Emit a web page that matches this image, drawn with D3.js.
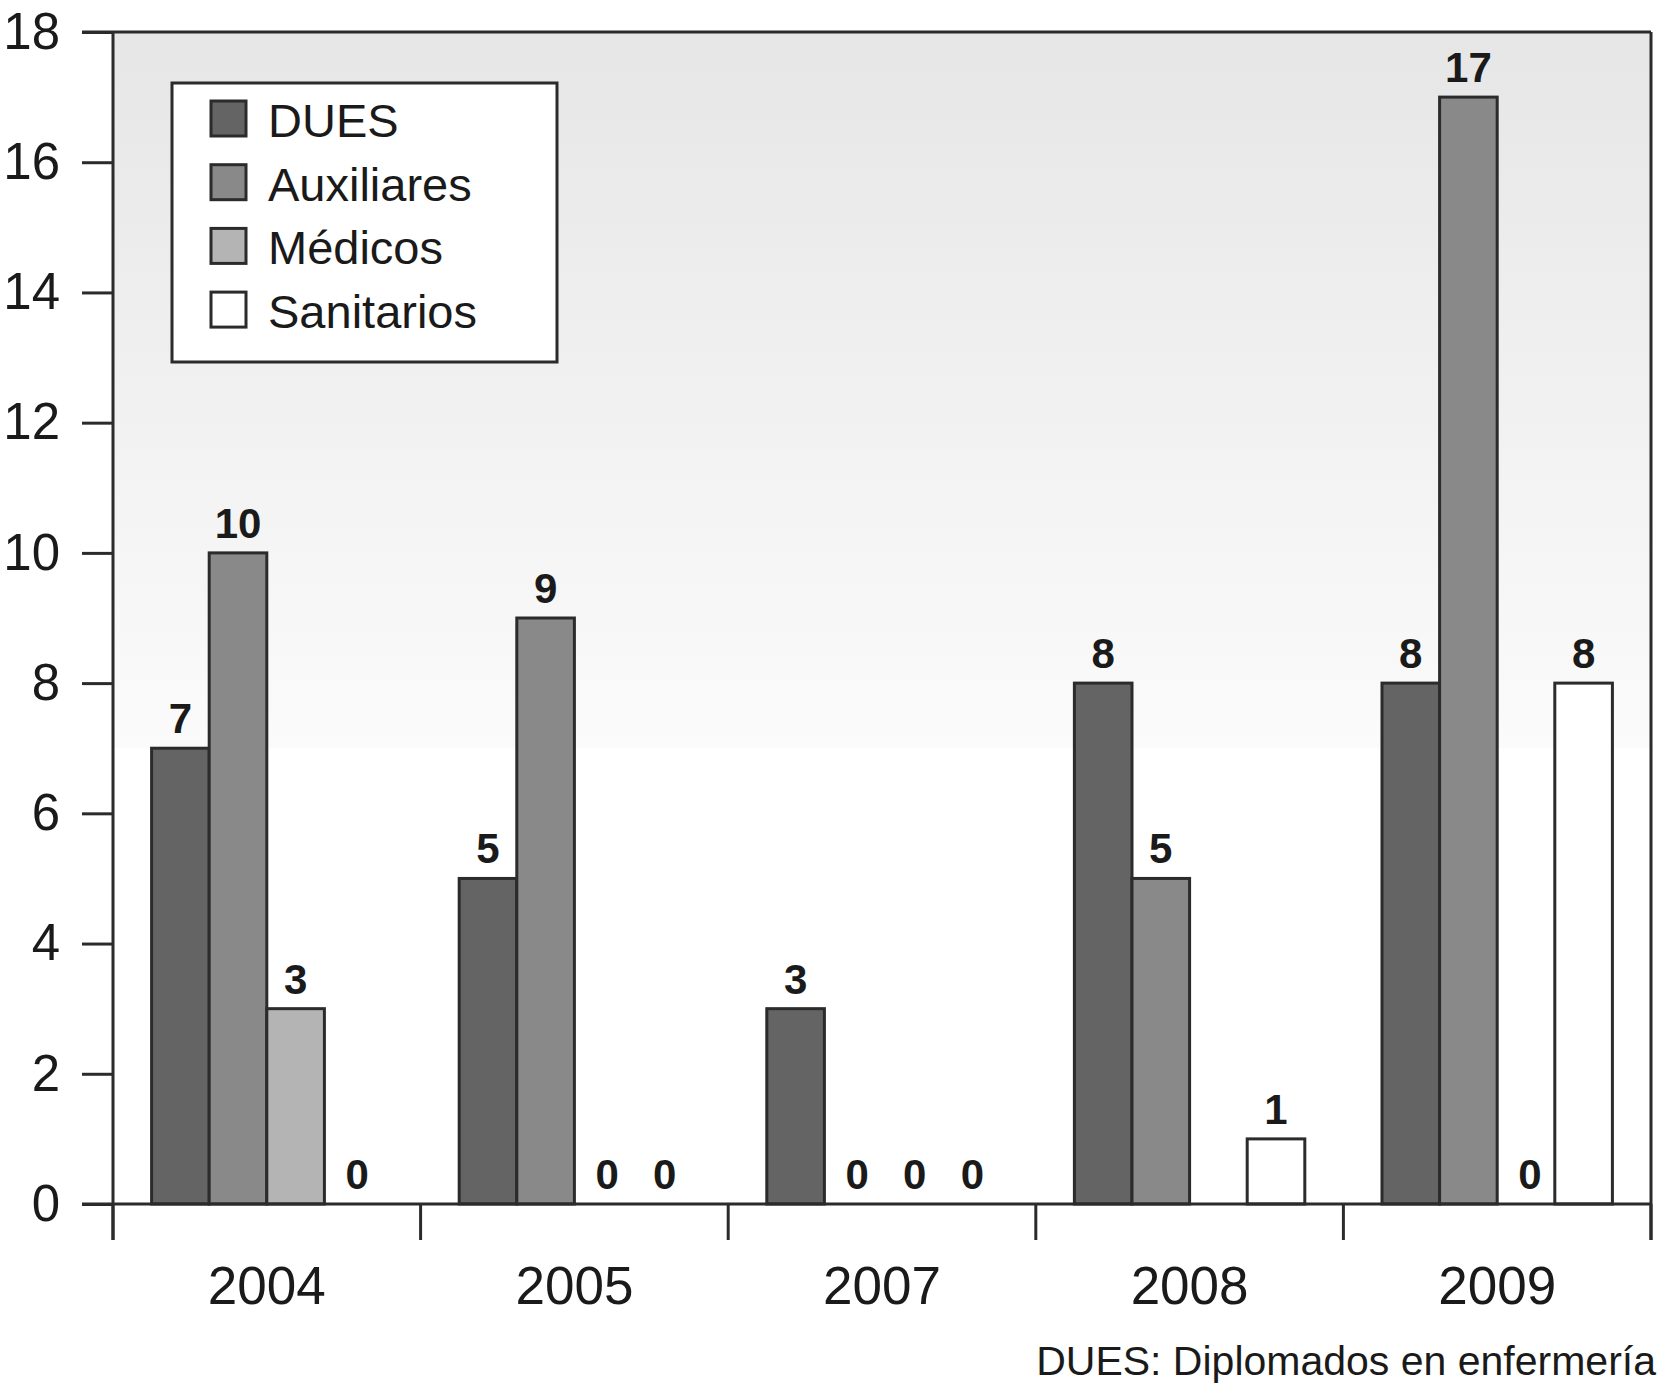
<!DOCTYPE html>
<html>
<head>
<meta charset="utf-8">
<script src="https://cdn.jsdelivr.net/npm/d3@7/dist/d3.min.js"></script>
<style>
  html, body { margin: 0; padding: 0; background: #fff; }
  svg { display: block; }
  text { font-family: "Liberation Sans", Arial, Helvetica, sans-serif; fill: #1a1a1a; }
</style>
</head>
<body>
<svg id="chart" width="1660" height="1389"></svg>
<script>
const years = ["2004", "2005", "2007", "2008", "2009"];
const seriesNames = ["DUES", "Auxiliares", "Médicos", "Sanitarios"];
const dues = [7, 5, 3, 8, 8];
const auxiliares = [10, 9, 0, 5, 17];
const medicos = [3, 0, 0, null, 0];
const sanitarios = [0, 0, 0, 1, 8];
const yTicks = [0, 2, 4, 6, 8, 10, 12, 14, 16, 18];
const footnote = "DUES: Diplomados en enfermería";

const seriesValues = [dues, auxiliares, medicos, sanitarios];
const colors = ["#646464", "#898989", "#b4b4b4", "#ffffff"];
const stroke = "#2b2b2b";

const svg = d3.select("#chart");
const plotLeft = 113, plotRight = 1651, plotTop = 32, plotBottom = 1204;

const x0 = d3.scaleBand().domain(years).range([plotLeft, plotRight]).paddingInner(0).paddingOuter(0);
const x1 = d3.scaleBand().domain(seriesNames).range([0, x0.bandwidth()]).paddingInner(0).paddingOuter(0.67);
const y = d3.scaleLinear().domain([0, 18]).range([plotBottom, plotTop]);
const color = d3.scaleOrdinal().domain(seriesNames).range(colors);

// background gradient
const defs = svg.append("defs");
const grad = defs.append("linearGradient").attr("id", "bg").attr("x1", 0).attr("y1", 0).attr("x2", 0).attr("y2", 1);
grad.append("stop").attr("offset", "0%").attr("stop-color", "#e6e6e6");
grad.append("stop").attr("offset", "100%").attr("stop-color", "#fbfbfb");
svg.append("rect").attr("x", plotLeft).attr("y", y(18)).attr("width", plotRight - plotLeft).attr("height", y(7) - y(18)).attr("fill", "url(#bg)");

// data rows
const rows = [];
years.forEach((yr, i) => {
  seriesNames.forEach((s, j) => rows.push({ year: yr, series: s, value: seriesValues[j][i] }));
});

// bars
svg.append("g").selectAll("rect").data(rows.filter(d => d.value > 0)).join("rect")
  .attr("x", d => x0(d.year) + x1(d.series))
  .attr("y", d => y(d.value))
  .attr("width", x1.bandwidth())
  .attr("height", d => y(0) - y(d.value))
  .attr("fill", d => color(d.series))
  .attr("stroke", stroke).attr("stroke-width", 3);

// value labels
svg.append("g").selectAll("text").data(rows.filter(d => d.value !== null)).join("text")
  .attr("x", d => x0(d.year) + x1(d.series) + x1.bandwidth() / 2 + (d.value === 0 ? 4 : 0))
  .attr("y", d => y(d.value) - 15)
  .attr("text-anchor", "middle")
  .attr("font-weight", "bold")
  .attr("font-size", 42)
  .text(d => d.value);

// y axis
const yAxis = d3.axisLeft(y).tickValues(yTicks).tickSize(31).tickSizeOuter(0).tickPadding(22);
const gy = svg.append("g").attr("transform", `translate(${plotLeft},0)`).call(yAxis);
gy.select(".domain").remove();
gy.selectAll(".tick line").attr("stroke", stroke).attr("stroke-width", 3);
gy.selectAll(".tick text").attr("font-size", 51).attr("fill", "#1a1a1a")
  .style("font-family", '"Liberation Sans", Arial, sans-serif');

// x axis labels
const xAxis = d3.axisBottom(x0).tickSize(0).tickPadding(62);
const gx = svg.append("g").attr("transform", `translate(0,${plotBottom})`).call(xAxis);
gx.select(".domain").remove();
gx.selectAll(".tick text").attr("font-size", 53).attr("fill", "#1a1a1a")
  .style("font-family", '"Liberation Sans", Arial, sans-serif');

// x boundary ticks
const bounds = years.map(d => x0(d)).concat([x0.range()[1]]);
svg.append("g").selectAll("line").data(bounds).join("line")
  .attr("x1", d => d).attr("x2", d => d)
  .attr("y1", plotBottom).attr("y2", plotBottom + 36)
  .attr("stroke", stroke).attr("stroke-width", 3);

// frame
const frame = svg.append("g").attr("stroke", stroke).attr("stroke-width", 3).attr("fill", "none");
frame.append("line").attr("x1", plotLeft - 31).attr("x2", plotRight).attr("y1", y(18)).attr("y2", y(18));
frame.append("line").attr("x1", plotLeft - 31).attr("x2", plotRight).attr("y1", y(0)).attr("y2", y(0));
frame.append("line").attr("x1", plotLeft).attr("x2", plotLeft).attr("y1", y(18)).attr("y2", plotBottom + 36);
frame.append("line").attr("x1", plotRight).attr("x2", plotRight).attr("y1", y(18)).attr("y2", plotBottom + 36);

// legend
const lg = svg.append("g").attr("transform", "translate(172,83)");
lg.append("rect").attr("width", 385).attr("height", 279).attr("fill", "#fff").attr("stroke", stroke).attr("stroke-width", 3);
const items = lg.selectAll("g.item").data(seriesNames).join("g")
  .attr("transform", (d, i) => `translate(39,${18 + i * 63.7})`);
items.append("rect").attr("width", 35).attr("height", 35)
  .attr("fill", d => color(d)).attr("stroke", stroke).attr("stroke-width", 3);
items.append("text").attr("x", 57).attr("y", 36).attr("font-size", 47).text(d => d);

// footnote
svg.append("text").attr("x", 1656).attr("y", 1375).attr("text-anchor", "end")
  .attr("font-size", 41).text(footnote);
</script>
</body>
</html>
